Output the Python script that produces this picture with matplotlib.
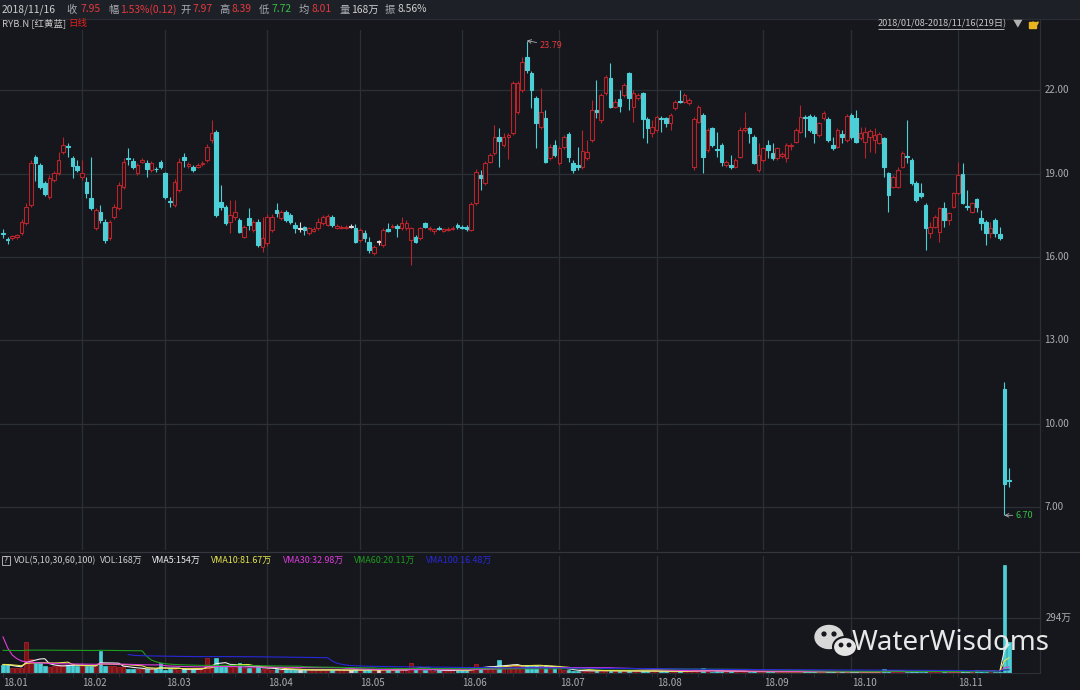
import numpy as np
import pandas as pd
import matplotlib
matplotlib.use('Agg')
import matplotlib.pyplot as plt
from matplotlib.patches import Rectangle, Ellipse, Circle, Arc

plt.rcParams['font.family'] = ['Noto Sans CJK SC', 'DejaVu Sans']

# daily candles 2018/01/08 - 2018/11/16
opens = [
    16.87, 16.63, 16.68, 16.72, 16.85, 17.21, 17.87, 19.61, 19.31, 18.65,
    18.17, 18.77, 19.01, 19.79, 19.99, 19.55, 19.28, 18.89, 18.71, 18.11,
    17.03, 17.63, 17.27, 16.67, 17.45, 17.75, 18.53, 19.57, 19.46, 19.01,
    19.43, 19.40, 19.13, 19.17, 19.41, 19.01, 18.01, 17.87, 18.41, 19.61,
    19.29, 19.25, 19.25, 19.33, 19.49, 20.21, 20.51, 17.99, 17.81, 17.27,
    17.45, 17.33, 16.73, 17.39, 16.97, 17.27, 16.37, 16.49, 16.97, 17.69,
    17.39, 17.63, 17.51, 17.15, 17.00, 17.07, 16.85, 16.95, 17.03, 17.21,
    17.15, 17.45, 17.06, 17.04, 17.04, 17.09, 17.03, 16.61, 16.85, 16.55,
    16.13, 16.55, 16.43, 17.00, 17.08, 17.11, 17.03, 17.03, 16.61, 16.73,
    16.67, 17.21, 17.00, 16.95, 17.06, 16.95, 16.97, 17.02, 17.15, 17.09,
    17.09, 16.97, 17.93, 18.95, 18.65, 19.43, 19.73, 20.31, 20.03, 20.33,
    20.45, 21.23, 22.01, 23.21, 22.61, 21.71, 20.69, 20.99, 19.55, 20.03,
    19.37, 19.97, 20.43, 19.40, 19.31, 19.25, 19.55, 20.21, 21.29, 20.93,
    21.89, 22.43, 21.41, 21.68, 21.83, 22.61, 21.41, 21.71, 21.89, 20.96,
    20.45, 20.57, 21.02, 20.99, 20.81, 21.35, 21.61, 21.59, 21.53, 19.25,
    20.87, 21.11, 19.85, 20.63, 19.87, 20.03, 19.31, 19.31, 19.25, 19.61,
    20.57, 20.63, 20.33, 19.13, 19.49, 20.03, 19.73, 19.55, 19.64, 19.55,
    19.98, 20.15, 20.51, 21.05, 21.08, 21.03, 20.39, 20.99, 20.96, 20.03,
    19.97, 20.41, 20.21, 21.11, 20.99, 20.27, 20.15, 20.33, 20.21, 20.12,
    20.27, 19.01, 18.53, 18.53, 19.25, 19.63, 19.49, 18.67, 18.31, 17.87,
    16.85, 17.09, 16.91, 17.75, 17.33, 17.81, 18.29, 18.99, 17.83, 17.63,
    18.07, 17.39, 17.27, 16.85, 17.33, 16.83, 11.24, 7.97]
highs = [
    17.00, 16.73, 16.80, 16.84, 17.35, 17.95, 19.50, 19.67, 19.40, 18.75,
    18.95, 19.10, 19.79, 20.33, 20.09, 19.62, 19.49, 19.49, 18.89, 19.61,
    17.75, 17.87, 17.35, 17.33, 17.90, 18.70, 19.55, 19.91, 19.55, 19.40,
    19.55, 19.49, 19.45, 19.25, 19.49, 19.07, 18.17, 18.80, 19.55, 19.73,
    19.43, 19.31, 19.37, 19.47, 20.05, 20.93, 20.57, 18.59, 17.87, 18.05,
    18.05, 17.40, 17.15, 17.75, 17.33, 17.35, 17.45, 17.55, 17.55, 17.93,
    17.70, 17.70, 17.60, 17.27, 17.27, 17.12, 17.09, 17.07, 17.39, 17.52,
    17.55, 17.50, 17.17, 17.15, 17.15, 17.17, 17.17, 17.03, 16.97, 16.73,
    16.43, 16.61, 17.03, 17.23, 17.20, 17.17, 17.45, 17.33, 17.09, 16.79,
    17.09, 17.27, 17.10, 17.06, 17.12, 17.06, 17.08, 17.12, 17.21, 17.14,
    17.14, 17.97, 19.15, 19.13, 19.45, 19.75, 20.75, 20.63, 20.45, 20.45,
    22.35, 22.35, 23.21, 23.79, 22.70, 21.80, 22.07, 21.29, 20.05, 20.21,
    19.98, 20.40, 20.50, 19.49, 19.97, 20.57, 20.21, 21.65, 22.37, 21.89,
    22.55, 22.97, 21.68, 22.01, 22.27, 22.67, 22.01, 21.89, 21.95, 21.03,
    20.93, 21.12, 21.08, 21.05, 21.17, 21.65, 22.01, 21.89, 21.71, 21.03,
    21.47, 21.17, 20.63, 20.69, 20.51, 20.09, 19.49, 19.67, 19.55, 20.69,
    21.23, 20.69, 20.39, 20.09, 19.97, 20.21, 20.09, 19.97, 19.77, 20.09,
    20.09, 20.63, 21.47, 21.11, 21.15, 21.10, 20.87, 21.27, 21.03, 20.33,
    20.63, 20.57, 21.15, 21.17, 21.29, 20.69, 20.69, 20.61, 20.63, 20.50,
    20.33, 19.07, 18.95, 19.25, 19.80, 20.93, 19.55, 18.73, 18.65, 17.93,
    17.27, 17.52, 17.81, 17.99, 17.63, 18.35, 19.43, 19.37, 18.41, 17.99,
    18.13, 17.69, 17.33, 17.27, 17.39, 17.09, 11.51, 8.39]
lows = [
    16.67, 16.46, 16.62, 16.66, 16.80, 17.15, 17.80, 18.75, 18.45, 18.20,
    18.10, 18.70, 18.95, 19.72, 19.61, 18.83, 19.07, 18.77, 18.11, 17.69,
    16.97, 17.21, 16.52, 16.60, 17.38, 17.68, 18.45, 19.31, 19.15, 18.95,
    19.37, 18.89, 19.07, 19.07, 19.17, 18.10, 17.81, 17.80, 18.35, 19.25,
    19.19, 19.07, 19.19, 19.27, 19.43, 20.09, 17.45, 17.69, 17.15, 16.85,
    17.33, 16.85, 16.67, 16.97, 16.90, 16.35, 16.19, 16.40, 16.90, 17.45,
    17.33, 17.27, 17.20, 16.85, 16.91, 16.79, 16.80, 16.90, 16.97, 17.15,
    17.10, 17.07, 17.00, 16.99, 16.99, 17.03, 16.49, 16.55, 16.55, 16.13,
    16.07, 16.43, 16.37, 16.91, 17.03, 16.73, 16.97, 16.97, 15.72, 16.49,
    16.61, 17.03, 16.95, 16.83, 16.97, 16.90, 16.92, 16.97, 17.02, 17.00,
    16.95, 16.93, 17.87, 18.41, 18.59, 19.37, 19.67, 19.25, 19.97, 19.52,
    20.39, 21.15, 21.95, 22.61, 21.35, 19.91, 20.60, 19.37, 19.49, 19.61,
    19.30, 19.90, 19.43, 19.03, 19.13, 19.18, 19.49, 20.15, 20.99, 20.81,
    21.83, 21.35, 21.35, 21.23, 21.77, 21.29, 20.87, 21.65, 20.27, 20.09,
    20.33, 20.50, 20.51, 20.69, 20.57, 21.29, 21.53, 21.53, 21.47, 19.13,
    20.81, 19.01, 19.79, 19.97, 19.61, 19.27, 19.25, 19.15, 19.19, 19.55,
    20.51, 20.09, 19.33, 19.07, 19.43, 19.55, 19.49, 19.49, 19.58, 19.43,
    19.85, 20.09, 20.45, 20.33, 20.50, 20.09, 20.33, 20.93, 20.15, 19.85,
    19.91, 20.09, 20.15, 20.25, 20.09, 20.21, 19.55, 19.79, 19.73, 20.05,
    18.89, 17.63, 18.47, 18.47, 19.19, 19.37, 18.59, 17.99, 18.13, 16.25,
    16.67, 17.03, 16.55, 17.09, 17.15, 17.75, 18.23, 17.89, 17.69, 17.57,
    17.63, 16.97, 16.43, 16.67, 16.73, 16.61, 6.70, 7.72]
closes = [
    16.83, 16.60, 16.74, 16.78, 17.27, 17.81, 19.37, 19.37, 18.53, 18.27,
    18.83, 19.01, 19.49, 20.03, 19.95, 19.27, 19.13, 19.01, 18.29, 17.75,
    17.69, 17.33, 16.61, 17.27, 17.81, 18.59, 19.43, 19.53, 19.23, 19.31,
    19.49, 19.15, 19.37, 19.15, 19.25, 18.17, 17.97, 18.71, 19.43, 19.49,
    19.33, 19.13, 19.31, 19.40, 19.97, 20.45, 17.51, 17.81, 17.23, 17.51,
    17.63, 16.91, 17.09, 17.15, 17.27, 16.43, 16.67, 17.45, 17.45, 17.57,
    17.63, 17.33, 17.27, 17.03, 17.00, 16.97, 17.03, 17.00, 17.27, 17.45,
    17.47, 17.15, 17.11, 17.09, 17.09, 17.09, 16.55, 16.97, 16.67, 16.25,
    16.37, 16.55, 16.97, 16.93, 17.13, 17.03, 17.21, 17.21, 17.03, 16.55,
    17.03, 17.09, 17.05, 17.00, 17.02, 17.00, 17.02, 17.04, 17.07, 17.05,
    17.00, 17.91, 19.07, 18.83, 19.37, 19.67, 20.33, 20.19, 20.33, 20.39,
    22.25, 22.25, 23.03, 22.73, 22.01, 20.81, 21.23, 19.43, 19.97, 19.67,
    19.91, 20.33, 19.61, 19.13, 19.23, 19.83, 19.79, 21.29, 21.23, 21.83,
    22.49, 21.41, 21.59, 21.44, 22.19, 21.71, 21.89, 21.83, 20.96, 20.63,
    20.69, 21.05, 20.96, 20.84, 21.11, 21.59, 21.57, 21.83, 21.65, 20.96,
    21.41, 19.61, 20.57, 20.03, 19.85, 19.43, 19.43, 19.23, 19.49, 20.57,
    20.63, 20.45, 19.40, 19.67, 19.91, 19.85, 19.55, 19.91, 19.70, 20.03,
    20.03, 20.57, 21.05, 21.00, 20.57, 20.45, 20.81, 21.20, 20.21, 19.91,
    20.57, 20.33, 21.08, 20.31, 20.15, 20.45, 20.51, 20.55, 20.39, 20.43,
    19.23, 18.23, 18.89, 19.13, 19.73, 19.59, 18.65, 18.05, 18.19, 17.03,
    17.09, 17.45, 17.75, 17.33, 17.57, 18.29, 18.95, 17.95, 17.79, 17.93,
    17.81, 17.21, 16.87, 17.03, 16.85, 16.67, 7.83, 7.95]

# daily volume, 万 shares
volumes = [
    45, 42, 27, 25, 28, 165, 73, 55, 55, 36,
    34, 38, 36, 45, 45, 45, 38, 36, 40, 38,
    40, 118, 36, 38, 36, 34, 40, 22, 20, 22,
    24, 20, 22, 20, 55, 18, 20, 22, 18, 20,
    18, 20, 22, 25, 82, 40, 82, 36, 38, 34,
    36, 55, 27, 25, 28, 40, 22, 20, 18, 20,
    18, 17, 16, 18, 15, 17, 16, 15, 18, 17,
    16, 18, 15, 14, 15, 14, 22, 16, 15, 20,
    18, 15, 20, 16, 14, 18, 16, 15, 55, 20,
    27, 15, 14, 13, 15, 14, 13, 14, 15, 14,
    15, 30, 51, 29, 30, 28, 32, 69, 36, 40,
    42, 38, 36, 42, 40, 36, 34, 42, 30, 28,
    22, 16, 14, 12, 11, 12, 13, 11, 12, 14,
    13, 12, 10, 11, 12, 10, 11, 10, 12, 11,
    9, 10, 9, 10, 9, 8, 9, 10, 9, 14,
    10, 27, 9, 8, 9, 10, 8, 9, 8, 9,
    8, 7, 9, 8, 7, 8, 7, 8, 7, 7,
    8, 7, 8, 7, 8, 7, 6, 7, 8, 7,
    7, 6, 7, 8, 7, 6, 7, 6, 7, 7,
    22, 12, 8, 7, 7, 8, 9, 9, 8, 12,
    8, 7, 8, 7, 6, 7, 8, 9, 7, 6,
    18, 9, 8, 6, 7, 6, 580, 168]

# volume before the window (IPO 2017/09 onwards), inferred from the VMA lines
vol_before = [
    420, 180, 120, 90, 80, 75, 70, 65, 60, 60, 55, 55, 50,
    48, 52, 45, 50, 55, 47, 50, 46, 52, 49, 51, 44, 50, 53, 48, 46,
    50, 52, 47, 49, 55, 50, 48, 46, 52, 50, 49, 47, 51, 50,
    1800, 1200, 600, 400, 300,
    150, 120, 90, 80, 70, 65, 60, 58, 55, 52, 50, 55,
    48, 50, 52, 47, 45, 50, 48, 46, 44, 47, 45, 42]

month_idx = [0, 17, 35, 57, 77, 99, 120, 141, 164, 183, 206]
month_labels = ['18.01', '18.02', '18.03', '18.04', '18.05', '18.06',
                '18.07', '18.08', '18.09', '18.10', '18.11']
price_ticks = [22, 19, 16, 13, 10, 7]
vol_tick = 294
ma_periods = [5, 10, 30, 60, 100]
ma_colors = ['#f0f0f0', '#e6e64a', '#e03ce0', '#1e9e1e', '#2828d8']

BG = '#15171c'
HEAD_BG = '#1d2026'
GRID = '#2c2f36'
RED = '#b8242b'
CYAN = '#4ccfd6'
WHITE = '#dcdcdc'
TXT = '#a9acb2'
RED_T = '#e5393f'
GREEN_T = '#37bf46'

o = np.array(opens); h = np.array(highs); l = np.array(lows); c = np.array(closes)
v = np.array(volumes, dtype=float)
n = len(c)
x = np.arange(n)
colors = np.where(c > o, RED, np.where(c < o, CYAN, WHITE))
faces = np.where(c > o, BG, colors)

allv = pd.Series(vol_before + volumes, dtype=float)
mas = [allv.rolling(p, min_periods=p).mean().iloc[len(vol_before):].to_numpy()
       for p in ma_periods]

W, H = 1080, 690
fig = plt.figure(figsize=(W / 100, H / 100), dpi=100)
fig.patch.set_facecolor(BG)

step = 1006 / (n - 1)
xlim = (-3 / step, 1037 / step)

# price panel
ax = fig.add_axes([0, 140 / H, 1040 / W, 520 / H])
ax.set_facecolor(BG)
ax.set_xlim(*xlim)
ax.set_ylim(5.452, 24.17)
for s in ax.spines.values():
    s.set_visible(False)
ax.set_xticks([]); ax.set_yticks([])
for p in price_ticks:
    ax.axhline(p, color=GRID, lw=0.9, zorder=0)
    ax.text(1.004, p, f'{p:.2f}', transform=ax.get_yaxis_transform(),
            color=TXT, fontsize=7, va='center', ha='left', clip_on=False)
for m in month_idx[1:]:
    ax.axvline(m, color=GRID, lw=0.9, zorder=0)

ax.vlines(x, l, h, colors=colors, lw=0.8, zorder=2)
body = np.maximum(np.abs(c - o), 0.03)
ax.bar(x, body, bottom=np.minimum(o, c), width=0.78, color=faces,
       edgecolor=colors, linewidth=0.8, zorder=3)

imax = int(np.argmax(h)); imin = int(np.argmin(l))
ax.annotate(f'{h[imax]:.2f}', xy=(imax, h[imax]), xytext=(9, -3.5),
            textcoords='offset points', color=RED_T, fontsize=6.5, va='center',
            arrowprops=dict(arrowstyle='->', color='#b0b0b0', lw=0.6,
                            shrinkA=0, shrinkB=0))
ax.annotate(f'{l[imin]:.2f}', xy=(imin, l[imin]), xytext=(8, 0),
            textcoords='offset points', color=GREEN_T, fontsize=6.5, va='center',
            arrowprops=dict(arrowstyle='->', color='#b0b0b0', lw=0.6,
                            shrinkA=0, shrinkB=0))

# volume panel
vtop = 580 * 117 / (673 - 565)
vax = fig.add_axes([0, 17 / H, 1040 / W, 117 / H])
vax.set_facecolor(BG)
vax.set_xlim(*xlim)
vax.set_ylim(0, vtop)
for s in vax.spines.values():
    s.set_visible(False)
vax.spines['bottom'].set_visible(True)
vax.spines['bottom'].set_color(GRID)
vax.set_yticks([])
vax.set_xticks(month_idx)
vax.set_xticklabels([])
vax.set_xticks(np.arange(0, n, 5), minor=True)
vax.tick_params(which='both', length=3, color=GRID, direction='out')
vax.axhline(vol_tick, color=GRID, lw=0.9, zorder=0)
vax.text(1.005, vol_tick, f'{vol_tick}万', transform=vax.get_yaxis_transform(),
         color=TXT, fontsize=7, va='center', ha='left', clip_on=False)
for m in month_idx[1:]:
    vax.axvline(m, color=GRID, lw=0.9, zorder=0)
for m, lab in zip(month_idx, month_labels):
    vax.text(m + 0.1, -0.085, lab, transform=vax.get_xaxis_transform(),
             color=TXT, fontsize=7, va='center', ha='left', clip_on=False)
vfaces = np.where(c > o, '#7a1418', colors)
vax.bar(x, v, width=0.78, color=vfaces, edgecolor=colors, linewidth=0.5, zorder=2)
for ma, col in zip(mas, ma_colors):
    vax.plot(x, ma, color=col, lw=0.8, zorder=3)

# overlay in pixel coordinates: header, frame lines, watermark
ov = fig.add_axes([0, 0, 1, 1], zorder=10)
ov.set_xlim(0, W); ov.set_ylim(H, 0); ov.axis('off')
ov.add_patch(Rectangle((0, 0), W, 19, color=HEAD_BG, zorder=0))
ov.hlines([19], 0, W, color='#2a2d33', lw=0.8)
ov.hlines([552], 0, W, color='#33363d', lw=0.9)
ov.vlines([1040], 19, 673, color=GRID, lw=0.9)

head = [(2, '2018/11/16', '#d0d0d0'), (66, '收', TXT), (80, '7.95', RED_T),
        (108, '幅', TXT), (120, '1.53%(0.12)', RED_T), (180, '开', TXT),
        (192, '7.97', RED_T), (219, '高', TXT), (231, '8.39', RED_T),
        (259, '低', TXT), (271, '7.72', GREEN_T), (299, '均', TXT),
        (311, '8.01', RED_T), (339, '量', TXT), (351, '168万', '#d0d0d0'),
        (385, '振', TXT), (397, '8.56%', '#d0d0d0')]
for px, s, col in head:
    ov.text(px, 9.5, s, color=col, fontsize=7.4, va='center', ha='left')
ov.text(2, 23.5, 'RYB.N [红黄蓝]', color='#c8c8c8', fontsize=6.8, va='center')
ov.text(68, 23.5, '日线', color='#e02020', fontsize=6.8, va='center')
ov.text(878, 23.5, '2018/01/08-2018/11/16(219日)', color='#c8c8c8',
        fontsize=6.6, va='center', ha='left')
ov.hlines([29], 878, 1004, color='#c8c8c8', lw=0.6)
ov.text(1018, 23, '▼', color='#b0b0b0', fontsize=7, va='center', ha='center')
ov.add_patch(Rectangle((1029, 22), 7, 5.5, color='#e8b520'))
ov.add_patch(Arc((1035.5, 21.5), 5, 7, theta1=0, theta2=180, color='#e8b520', lw=1.2))

ov.add_patch(Rectangle((2, 555.5), 7.5, 9, fill=False, edgecolor='#b0b0b0', lw=0.7))
ov.text(5.8, 560.5, '?', color='#d0d0d0', fontsize=6, va='center', ha='center')
vhead = [(14, 'VOL(5,10,30,60,100)', '#d0d0d0'), (100, 'VOL:168万', '#d0d0d0'),
         (152, 'VMA5:154万', ma_colors[0]), (211, 'VMA10:81.67万', ma_colors[1]),
         (283, 'VMA30:32.98万', ma_colors[2]), (354, 'VMA60:20.11万', ma_colors[3]),
         (426, 'VMA100:16.48万', ma_colors[4])]
for px, s, col in vhead:
    ov.text(px, 560.5, s, color=col, fontsize=6.4, va='center', ha='left')

# watermark
ov.add_patch(Ellipse((829, 637), 28, 23, color='#d8d8d8', zorder=5))
ov.add_patch(Ellipse((845, 647), 24, 20, facecolor='#e4e4e4', edgecolor=BG,
                     lw=1.5, zorder=6))
for cx, cy in [(824, 634), (834, 634)]:
    ov.add_patch(Circle((cx, cy), 1.9, color='#15171c', zorder=7))
for cx, cy in [(841, 645), (849, 645)]:
    ov.add_patch(Circle((cx, cy), 1.7, color='#15171c', zorder=7))
ov.text(852, 643, 'WaterWisdoms', color='#e8e8e8', fontsize=20,
        family=['Noto Sans', 'DejaVu Sans'], va='center', ha='left', zorder=8)

fig.savefig('out.png', dpi=100, facecolor=BG)
